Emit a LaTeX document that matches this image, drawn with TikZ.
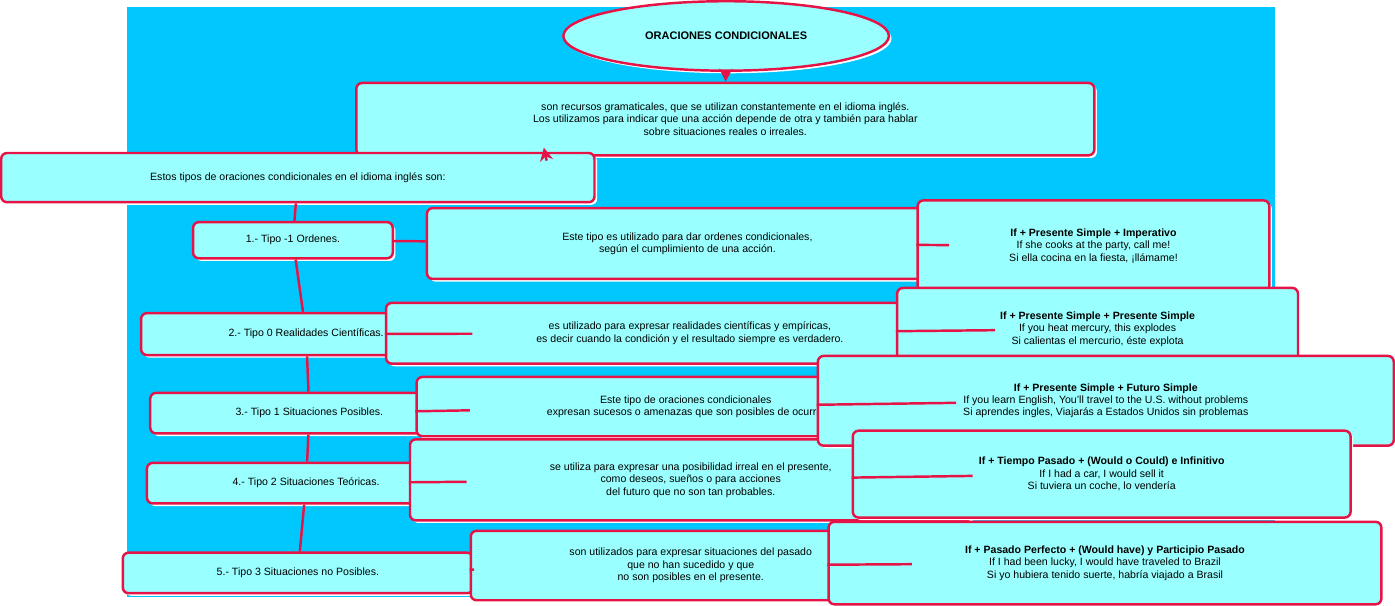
\documentclass[tikz,border=0pt]{standalone}
\usepackage{fontspec}
\setmainfont{Liberation Sans}
\usetikzlibrary{shadows,arrows.meta,shapes.geometric}
\definecolor{fondo}{RGB}{0,200,255}
\definecolor{caja}{RGB}{153,255,255}
\definecolor{borde}{RGB}{230,20,70}
\tikzset{
    box/.style={
           rectangle,
           rounded corners=4pt,
           draw=borde, line width=1.7pt,
           fill=caja,
           drop shadow={fill=white,opacity=1,shadow xshift=1.8pt,shadow yshift=-1.8pt},
           inner sep=2pt,
           align=center,
           font=\fontsize{7.3}{8.6}\selectfont,
           },
    link/.style={draw=borde, line width=1.7pt},
}
\begin{document}
\begin{tikzpicture}[x=0.02cm,y=-0.02cm]
 \fill[fondo] (0,0) rectangle (1395,716);

 % title and description
 \node[box,ellipse,minimum width=225,minimum height=48,font=\fontsize{7.6}{9}\selectfont\bfseries] (Titulo) at (728,35)
 {ORACIONES CONDICIONALES};
 \node[box,minimum width=510,minimum height=50] (Desc) at (727,136)
 {son recursos gramaticales, que se utilizan constantemente en el idioma inglés.\\
  Los utilizamos para indicar que una acción depende de otra y también para hablar\\
  sobre situaciones reales o irreales.};
 \node[box,minimum width=410,minimum height=34] (Tipos) at (208,207)
 {Estos tipos de oraciones condicionales en el idioma inglés son:};

 % left column
 \node[box,minimum width=138,minimum height=25] (T1) at (202,283) {1.- Tipo -1 Ordenes.};
 \node[box,minimum width=228,minimum height=29] (T2) at (218,397) {2.- Tipo 0 Realidades Científicas.};
 \node[box,minimum width=220,minimum height=28] (T3) at (222,493) {3.- Tipo 1 Situaciones Posibles.};
 \node[box,minimum width=220,minimum height=28] (T4) at (218,578) {4.- Tipo 2 Situaciones Teóricas.};
 \node[box,minimum width=242,minimum height=28] (T5) at (208,687) {5.- Tipo 3 Situaciones no Posibles.};

 % middle column
 \node[box,minimum width=360,minimum height=49] (M1) at (681,287)
 {Este tipo es utilizado para dar ordenes condicionales,\\según el cumplimiento de una acción.};
 \node[box,minimum width=420,minimum height=42] (M2) at (684,396)
 {es utilizado para expresar realidades científicas y empíricas,\\es decir cuando la condición y el resultado siempre es verdadero.};
 \node[box,minimum width=372,minimum height=41] (M3) at (679,485)
 {Este tipo de oraciones condicionales\\expresan sucesos o amenazas que son posibles de ocurrir.};
 \node[box,minimum width=388,minimum height=56] (M4) at (685,574)
 {se utiliza para expresar una posibilidad irreal en el presente,\\como deseos, sueños o para acciones\\del futuro que no son tan probables.};
 \node[box,minimum width=304,minimum height=48] (M5) at (685,678)
 {son utilizados para expresar situaciones del pasado\\que no han sucedido y que\\no son posibles en el presente.};

 % right column
 \node[box,minimum width=243,minimum height=63] (R1) at (1174,290)
 {\textbf{If + Presente Simple + Imperativo}\\If she cooks at the party, call me!\\Si ella cocina en la fiesta, ¡llámame!};
 \node[box,minimum width=277,minimum height=57] (R2) at (1179,391)
 {\textbf{If + Presente Simple + Presente Simple}\\If you heat mercury, this explodes\\Si calientas el mercurio, éste explota};
 \node[box,minimum width=398,minimum height=62] (R3) at (1189,478)
 {\textbf{If + Presente Simple + Futuro Simple}\\If you learn English, You'll travel to the U.S. without problems\\Si aprendes ingles, Viajarás a Estados Unidos sin problemas};
 \node[box,minimum width=344,minimum height=60] (R4) at (1184,567)
 {\textbf{If + Tiempo Pasado + (Would o Could) e Infinitivo}\\If I had a car, I would sell it\\Si tuviera un coche, lo vendería};
 \node[box,minimum width=382,minimum height=57] (R5) at (1188,675)
 {\textbf{If + Pasado Perfecto + (Would have) y Participio Pasado}\\If I had been lucky, I would have traveled to Brazil\\Si yo hubiera tenido suerte, habría viajado a Brasil};

 % arrows
 \draw[link,-{Stealth[length=9pt,width=9pt]}] (Titulo) -- (Desc);
 \draw[link,-{Stealth[length=9pt,width=9pt]}] ([xshift=-4.34cm,yshift=-0.1cm]Desc.south) -- ([xshift=-1.26cm,yshift=0.1cm]Tipos.north east);
 \draw[link] (Tipos) -- (T1) -- (T2) -- (T3) -- (T4) -- (T5);
 \foreach \i in {1,...,5}
   \draw[link] (T\i) -- (M\i) -- (R\i);
\end{tikzpicture}
\end{document}
